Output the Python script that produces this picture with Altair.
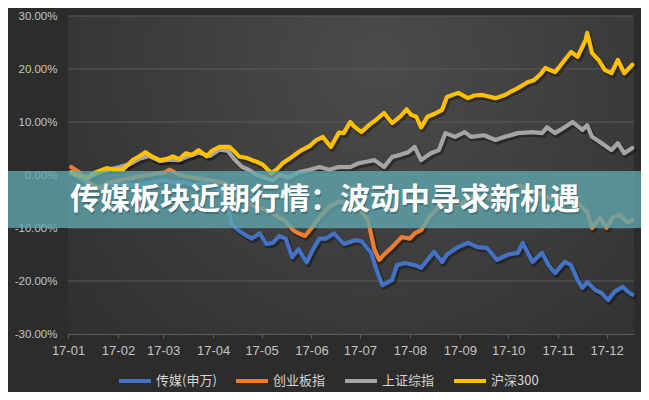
import altair as alt
import pandas as pd

SERIES = ["传媒(申万)", "创业板指", "上证综指", "沪深300"]
COLORS = ["#4472c4", "#ed7d31", "#a5a5a5", "#ffc000"]
TITLE = "传媒板块近期行情：波动中寻求新机遇"
Y_TICKS = [-30, -20, -10, 0, 10, 20, 30]
GRID_LINES = [-20, -10, 0, 10, 20, 30]
MONTHS = list(range(1, 13))

# day offsets from 2017-01-01 and cumulative change (%)
media_days = [2, 7, 13, 19, 25, 32, 41, 50, 60, 66, 72, 78, 84, 91, 95, 99, 102, 106, 111, 114,
              119, 123, 127, 131, 135, 139, 143, 148, 152, 156, 160, 165, 171, 178, 182, 188, 192, 195, 201, 204,
              209, 215, 219, 223, 227, 232, 235, 242, 248, 254, 260, 266, 273, 279, 282, 288, 294, 298, 302, 308,
              312, 316, 319, 322, 327, 331, 335, 339, 344, 347, 350]
media_vals = [0.3, -0.5, -2.0, -2.5, -2.0, -1.5, -2.0, -1.5, -1.0, -1.5, -1.3, -2.0, -1.5, -2.5, -3.0, -6.0, -9.5, -10.5, -11.5, -12.0,
              -11.0, -13.0, -12.8, -11.5, -12.0, -15.5, -14.0, -16.5, -14.0, -12.0, -12.0, -11.0, -13.0, -12.3, -12.5, -14.7, -18.5, -20.8, -19.8, -17.0,
              -16.6, -17.0, -17.5, -16.0, -14.5, -16.4, -15.0, -13.6, -12.8, -13.6, -13.8, -16.0, -15.0, -14.7, -12.8, -16.4, -14.7, -17.0, -18.5, -16.4,
              -17.0, -19.8, -21.3, -20.2, -21.7, -22.3, -23.6, -22.0, -21.1, -22.0, -22.6]

cyb_days = [2, 7, 13, 19, 25, 32, 41, 50, 60, 63, 69, 78, 88, 97, 103, 109, 116, 122, 128, 134,
            140, 143, 147, 151, 156, 162, 168, 175, 181, 186, 190, 193, 196, 201, 207, 212, 215, 219, 224, 230,
            237, 243, 249, 255, 262, 268, 274, 280, 286, 293, 299, 305, 311, 317, 322, 325, 330, 334, 338, 342,
            347, 350]
cyb_vals = [1.5, 0.5, -1.5, -2.5, -1.5, -1.0, -0.5, 0.0, 0.5, 1.0, 0.0, -0.5, -1.0, -1.5, -3.5, -5.0, -6.0, -6.5, -7.5, -8.5,
            -10.5, -11.0, -11.5, -10.0, -8.0, -6.0, -5.0, -5.5, -6.5, -8.5, -14.0, -16.0, -15.0, -13.6, -11.7, -12.0, -11.0, -10.4, -8.0, -6.0,
            -5.0, -5.5, -4.5, -4.0, -4.5, -3.5, -2.5, -2.0, -3.0, -3.5, -4.5, -4.0, -5.0, -5.5, -7.0, -10.0, -8.0, -10.0, -8.0, -7.5,
            -9.0, -8.5]

sh_days = [2, 7, 13, 19, 25, 32, 38, 44, 50, 57, 63, 69, 75, 81, 88, 94, 99, 103, 108, 112,
           117, 122, 127, 131, 137, 143, 150, 156, 162, 168, 175, 180, 185, 190, 196, 201, 206, 211, 215, 219,
           225, 230, 234, 240, 246, 250, 258, 265, 271, 279, 288, 294, 297, 302, 308, 313, 319, 322, 325, 331,
           337, 341, 345, 350]
sh_vals = [0.5, 0.0, -0.5, 0.5, 1.0, 1.5, 2.0, 3.0, 3.6, 2.6, 2.9, 2.8, 3.6, 4.2, 3.6, 4.8, 4.6, 3.0, 1.5, 1.0,
           0.0, -0.5, -1.0, 0.0, -0.5, 0.5, 1.0, 1.5, 1.0, 1.5, 1.5, 2.2, 2.5, 2.8, 1.5, 3.4, 3.8, 4.3, 5.3, 2.8,
           4.1, 4.7, 7.9, 7.2, 8.1, 7.2, 7.5, 6.6, 7.2, 7.9, 8.1, 7.9, 9.0, 7.9, 9.0, 10.0, 8.5, 9.4, 7.2, 6.0,
           4.7, 6.0, 4.1, 5.1]

hs300_days = [2, 6, 11, 17, 24, 29, 34, 40, 44, 48, 52, 57, 61, 65, 69, 73, 77, 81, 86, 89,
              94, 100, 103, 106, 111, 114, 117, 121, 124, 126, 130, 133, 137, 142, 145, 150, 154, 158, 163, 168,
              171, 175, 178, 182, 187, 191, 196, 201, 206, 210, 213, 216, 219, 223, 227, 232, 235, 242, 248, 252,
              257, 265, 271, 275, 279, 285, 289, 293, 296, 299, 302, 305, 308, 312, 316, 319, 321, 322, 325, 329,
              333, 337, 341, 345, 350]
hs300_vals = [0.5, 0.0, -0.6, 0.5, 1.3, 1.0, 1.0, 2.8, 3.5, 4.3, 3.5, 2.8, 3.0, 3.5, 3.0, 4.1, 3.8, 4.7, 3.5, 4.5,
              5.3, 5.3, 4.5, 3.5, 3.2, 2.8, 2.5, 1.9, 1.0, 0.3, 1.2, 2.2, 3.0, 4.1, 4.7, 5.5, 6.6, 7.2, 5.3, 8.0,
              7.9, 10.0, 9.0, 8.1, 9.5, 10.4, 11.7, 9.8, 11.0, 12.4, 11.3, 11.0, 9.0, 11.0, 11.5, 12.3, 14.7, 15.5, 14.5, 15.0,
              15.1, 14.5, 15.1, 15.8, 16.4, 17.5, 17.9, 19.0, 20.2, 19.8, 19.4, 20.5, 21.7, 23.2, 22.3, 24.2, 25.5, 26.8, 23.0, 21.7,
              19.8, 19.2, 21.7, 19.2, 20.8]

series_data = [(SERIES[0], media_days, media_vals), (SERIES[1], cyb_days, cyb_vals),
               (SERIES[2], sh_days, sh_vals), (SERIES[3], hs300_days, hs300_vals)]

base = pd.Timestamp("2017-01-01")
rows = []
for name, days, vals in series_data:
    assert len(days) == len(vals), name
    for d, v in zip(days, vals):
        rows.append({"date": (base + pd.Timedelta(days=d)).strftime("%Y-%m-%dT00:00:00"),
                     "value": v, "series": name})
df = pd.DataFrame(rows)

x_scale = alt.Scale(domain=[alt.DateTime(year=2017, month=1, date=1),
                            alt.DateTime(year=2017, month=12, date=18)])
y_scale = alt.Scale(domain=[-30, 30], nice=False)

x_axis = alt.Axis(values=[alt.DateTime(year=2017, month=m, date=1) for m in MONTHS],
                  format="%y-%m", title=None, grid=False, labelColor="#c4c4c4",
                  labelFontSize=13, labelFont="Liberation Sans", labelPadding=6,
                  labelFlush=False, labelOverlap=False,
                  tickColor="#5e5e5e", tickSize=4, domainColor="#5e5e5e", domainWidth=1)
y_axis = alt.Axis(values=Y_TICKS, title=None, grid=False, domain=False, ticks=False, tickSize=0,
                  labelColor="#c4c4c4", labelFontSize=11.5, labelFont="Liberation Sans",
                  labelPadding=11, labelFlush=False, labelOverlap=False,
                  labelExpr="(datum.value < 0 ? '-' : '') + format(abs(datum.value), '.2f') + '%'")

grid = alt.Chart(pd.DataFrame({"g": GRID_LINES})).mark_rule(
    color="#5a5a5a", strokeWidth=1).encode(
    y=alt.Y("g:Q", scale=y_scale, axis=y_axis))

shadow = alt.Chart(df).mark_line(
    strokeWidth=5.5, color="#000000", opacity=0.35, xOffset=1.5, yOffset=2,
    strokeJoin="round", strokeCap="round").encode(
    x=alt.X("date:T", scale=x_scale, axis=x_axis),
    y=alt.Y("value:Q", scale=y_scale),
    detail="series:N")

lines = alt.Chart(df).mark_line(
    strokeWidth=4.2, strokeJoin="round", strokeCap="round").encode(
    x=alt.X("date:T", scale=x_scale, axis=x_axis),
    y=alt.Y("value:Q", scale=y_scale),
    color=alt.Color("series:N", scale=alt.Scale(domain=SERIES, range=COLORS),
                    sort=SERIES,
                    legend=alt.Legend(orient="none", legendX=49, legendY=347,
                                      direction="horizontal", title=None,
                                      symbolType="stroke", symbolSize=1024,
                                      symbolStrokeWidth=4, labelColor="#d4d4d4",
                                      labelFontSize=13, labelFont="Noto Sans CJK SC",
                                      columnPadding=11, labelOffset=3, padding=0)))

one = pd.DataFrame({"t": [TITLE]})
banner = alt.Chart(one).mark_rect(fill="#5fa8b0", opacity=0.78).encode(
    x=alt.value(-60), x2=alt.value(573), y=alt.value(155), y2=alt.value(212))

title_shadow = alt.Chart(one).mark_text(
    align="left", baseline="middle", fontSize=30, fontWeight="bold",
    font="Noto Sans CJK SC", color="#1e3c40", opacity=0.35, dx=1, dy=1.5).encode(
    x=alt.value(2), y=alt.value(184), text="t:N")
title = alt.Chart(one).mark_text(
    align="left", baseline="middle", fontSize=30, fontWeight="bold",
    font="Noto Sans CJK SC", color="#ffffff").encode(
    x=alt.value(2), y=alt.value(184), text="t:N")

bg_expr = ("{gradient: 'radial', x1: 0.55, y1: 0.3, r1: 0, x2: 0.55, y2: 0.3, r2: 0.85, "
           "stops: [{offset: 0, color: '#4b4b4b'}, {offset: 1, color: '#2b2b2b'}]}")

chart = alt.layer(grid, shadow, lines, banner, title_shadow, title).properties(
    width=566, height=318,
    autosize=alt.AutoSizeParams(type="none"),
    padding={"left": 60, "top": 8, "right": 7, "bottom": 58},
    background="#2c2c2c",
).configure_view(
    strokeWidth=0, fill={"expr": bg_expr}
)

chart.save("out.html", embed_options={"renderer": "svg", "actions": False})
